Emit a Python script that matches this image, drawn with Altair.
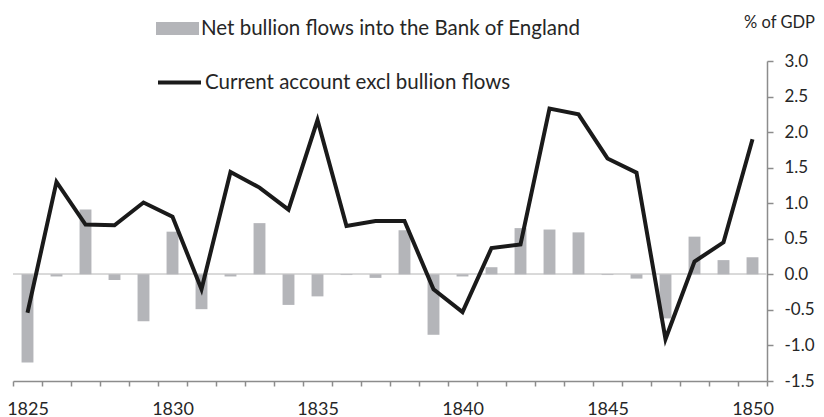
import altair as alt
import pandas as pd

years = list(range(1825, 1851))
bullion = [-1.24, -0.03, 0.91, -0.08, -0.66, 0.60, -0.49, -0.03, 0.72, -0.43,
           -0.31, -0.01, -0.05, 0.62, -0.85, -0.03, 0.10, 0.65, 0.63, 0.59,
           -0.01, -0.06, -0.62, 0.53, 0.20, 0.24]
current = [-0.54, 1.30, 0.70, 0.69, 1.01, 0.81, -0.21, 1.44, 1.22, 0.91,
           2.17, 0.68, 0.75, 0.75, -0.21, -0.53, 0.37, 0.42, 2.33, 2.25,
           1.63, 1.43, -0.91, 0.18, 0.45, 1.90]
series_names = ["Net bullion flows into the Bank of England",
                "Current account excl bullion flows"]
y_ticks = [-1.5, -1.0, -0.5, 0.0, 0.5, 1.0, 1.5, 2.0, 2.5, 3.0]

df = pd.DataFrame({"year": years, "bullion": bullion, "current": current})
df["s1"] = series_names[0]
df["s2"] = series_names[1]

FONT = "Lato"
TXT = "#262626"
AX = "#8c8c8c"

x_enc = alt.X(
    "year:O",
    scale=alt.Scale(type="band", paddingInner=0, paddingOuter=0),
    axis=alt.Axis(
        title=None,
        labelAngle=0,
        tickBand="extent",
        labelExpr="toNumber(datum.value) % 5 === 0 ? datum.label : ''",
        domainColor=AX, tickColor=AX, domainWidth=1.5, tickWidth=1.5,
        tickSize=5, labelPadding=14,
        labelFont=FONT, labelFontSize=18, labelColor=TXT,
    ),
)

y_scale = alt.Scale(domain=[-1.5, 3.0], nice=False, zero=False)
y_axis = alt.Axis(
    orient="right",
    values=y_ticks,
    grid=False,
    labelExpr="(datum.value < 0 ? '-' : '') + format(abs(datum.value), '.1f')",
    domainColor=AX, tickColor=AX, domainWidth=1.5, tickWidth=1.5,
    tickSize=6, labelPadding=11, labelAlign="left",
    labelFont=FONT, labelFontSize=17, labelColor=TXT,
    title="% of GDP", titleAngle=0, titleX=12, titleY=-39,
    titleAlign="center", titleBaseline="middle",
    titleFont=FONT, titleFontSize=16.5, titleFontWeight="normal", titleColor=TXT,
)

zero = alt.Chart(df).mark_rule(color="#d9d9d9", strokeWidth=1.5).encode(
    y=alt.Y(datum=0, scale=y_scale, axis=y_axis)
)

bars = alt.Chart(df).mark_bar(width=alt.RelativeBandSize(0.41)).encode(
    x=x_enc,
    y=alt.Y("bullion:Q", scale=y_scale, axis=y_axis),
    fill=alt.Fill(
        "s1:N",
        scale=alt.Scale(range=["#b4b5b9"]),
        legend=alt.Legend(
            title=None, orient="none", legendX=143, legendY=-54,
            symbolType="M-1,-0.3H1V0.3H-1Z", symbolSize=1849,
            symbolStrokeWidth=0, labelOffset=2, padding=0, labelLimit=0,
            labelFont=FONT, labelFontSize=20.5, labelColor=TXT,
        ),
    ),
)

line = alt.Chart(df).mark_line(strokeWidth=4, strokeJoin="miter").encode(
    x=x_enc,
    y=alt.Y("current:Q", scale=y_scale, axis=y_axis),
    stroke=alt.Stroke(
        "s2:N",
        scale=alt.Scale(range=["#1a1a1a"]),
        legend=alt.Legend(
            title=None, orient="none", legendX=143, legendY=-2,
            symbolType="stroke", symbolSize=1849, symbolStrokeWidth=4,
            labelOffset=2, padding=0, labelLimit=0,
            labelFont=FONT, labelFontSize=20.5, labelColor=TXT,
        ),
    ),
)

chart = (
    alt.layer(zero, bars, line)
    .properties(
        width=754, height=320,
        autosize=alt.AutoSizeParams(type="none"),
        padding={"left": 5, "top": 53, "right": 49, "bottom": 36},
    )
    .configure_view(stroke=None)
)

chart.save("out.html", embed_options={"renderer": "svg", "actions": False})
